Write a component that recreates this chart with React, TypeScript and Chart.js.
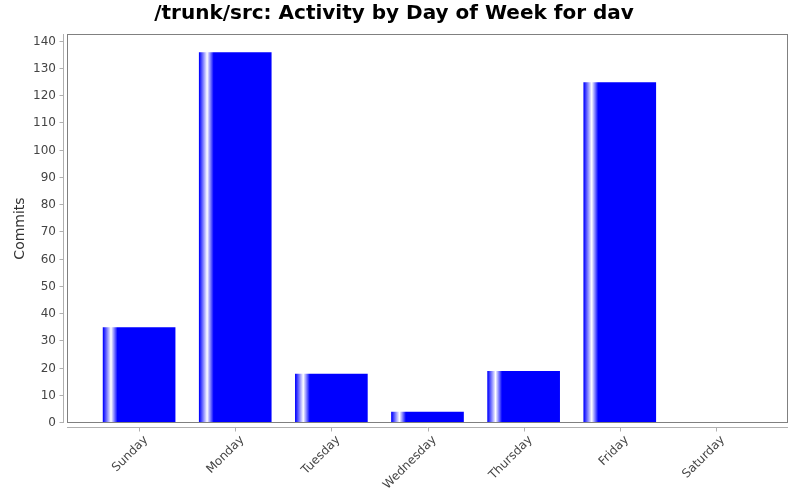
import React, { useEffect, useRef } from 'react'
import { Chart, registerables } from 'chart.js'

Chart.register(...registerables)

// data
const DAYS = ['Sunday', 'Monday', 'Tuesday', 'Wednesday', 'Thursday', 'Friday', 'Saturday']
const COMMITS = [35, 136, 18, 4, 19, 125, 0]
const Y_TICKS = [0, 10, 20, 30, 40, 50, 60, 70, 80, 90, 100, 110, 120, 130, 140]

const BLUE = '#0000ff'
const BAR_WIDTH = 72

// gradient bars + plot frame + axis lines drawn like the original (axes offset from the plot box)
const framePlugin = {
  id: 'frame',
  beforeDatasetsDraw(chart: any) {
    // blue -> white -> blue near the left edge of each bar
    const meta = chart.getDatasetMeta(0)
    meta.data.forEach((el: any) => {
      const left = el.x - el.width / 2
      if (!isFinite(left)) return
      const g = chart.ctx.createLinearGradient(left, 0, left + el.width, 0)
      g.addColorStop(0, BLUE)
      g.addColorStop(0.11, '#ffffff')
      g.addColorStop(0.2, BLUE)
      g.addColorStop(1, BLUE)
      el.options = { ...el.options, backgroundColor: g }
    })
  },
  afterDraw(chart: any) {
    const { ctx, chartArea: a, scales } = chart
    ctx.save()
    ctx.lineWidth = 1
    ctx.strokeStyle = '#808080'
    ctx.strokeRect(Math.round(a.left) + 0.5, Math.round(a.top) + 0.5, Math.round(a.right - a.left) - 1, Math.round(a.bottom - a.top) - 1)

    ctx.strokeStyle = '#b0b0b0'
    // y axis
    const ax = Math.round(a.left) - 3.5
    ctx.beginPath()
    ctx.moveTo(ax, a.top)
    ctx.lineTo(ax, a.bottom)
    Y_TICKS.forEach((v) => {
      const y = Math.round(scales.y.getPixelForValue(v)) - 0.5
      ctx.moveTo(ax - 4, y)
      ctx.lineTo(ax, y)
    })
    // x axis
    const ay = Math.round(a.bottom) + 4.5
    ctx.moveTo(a.left, ay)
    ctx.lineTo(a.right, ay)
    DAYS.forEach((_, i) => {
      const x = Math.round(scales.x.getPixelForValue(i)) + 0.5
      ctx.moveTo(x, ay)
      ctx.lineTo(x, ay + 4)
    })
    ctx.stroke()
    ctx.restore()
  },
}

const App: React.FC = () => {
  const canvasRef = useRef<HTMLCanvasElement>(null)

  useEffect(() => {
    if (!canvasRef.current) return
    document.body.style.margin = '0'

    const chart = new Chart(canvasRef.current, {
      type: 'bar',
      data: {
        datasets: [
          {
            label: 'Commits',
            data: COMMITS.map((v, i) => ({ x: i, y: v })),
            backgroundColor: BLUE,
            borderWidth: 0,
            barThickness: BAR_WIDTH,
          },
        ],
      },
      plugins: [framePlugin],
      options: {
        animation: false,
        responsive: true,
        maintainAspectRatio: false,
        devicePixelRatio: 1,
        layout: { padding: { left: 0, right: 12, top: 0, bottom: 0 } },
        plugins: {
          legend: { display: false },
          tooltip: { enabled: false },
          title: {
            display: true,
            text: '/trunk/src: Activity by Day of Week for dav',
            color: '#000000',
            font: { family: 'DejaVu Sans', size: 20, weight: 'bold' },
            padding: { top: 2, bottom: 8 },
          },
        },
        scales: {
          x: {
            type: 'linear',
            offset: false,
            min: -0.75,
            max: 6.75,
            grid: { display: false, drawTicks: false },
            border: { display: false },
            afterBuildTicks: (s: any) => {
              s.ticks = DAYS.map((_, i) => ({ value: i }))
            },
            afterFit: (s: any) => {
              s.height = 77
            },
            ticks: {
              autoSkip: false,
              minRotation: 45,
              maxRotation: 45,
              padding: 10,
              labelOffset: 7,
              color: '#444444',
              font: { family: 'DejaVu Sans', size: 12 },
              callback: (v: any) => DAYS[v],
            },
          },
          y: {
            min: 0,
            max: 142.8,
            grid: { display: false, drawTicks: false },
            border: { display: false },
            afterBuildTicks: (s: any) => {
              s.ticks = Y_TICKS.map((v) => ({ value: v }))
            },
            afterFit: (s: any) => {
              s.width = 67
            },
            title: {
              display: true,
              text: 'Commits',
              color: '#333333',
              font: { family: 'DejaVu Sans', size: 14 },
              padding: { top: 12, bottom: 0 },
            },
            ticks: {
              padding: 11,
              color: '#444444',
              font: { family: 'DejaVu Sans', size: 12 },
            },
          },
        },
      },
    })

    return () => chart.destroy()
  }, [])

  return (
    <div style={{ position: 'relative', width: 800, height: 500, background: '#ffffff' }}>
      <canvas ref={canvasRef}></canvas>
    </div>
  )
}

export default App
